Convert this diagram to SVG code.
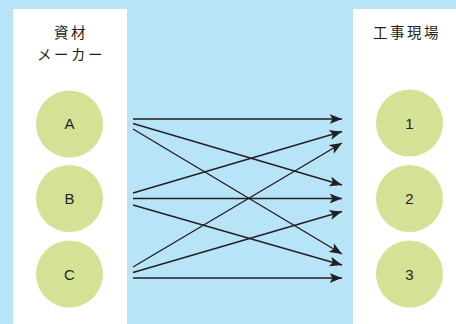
<svg xmlns="http://www.w3.org/2000/svg" width="456" height="324" viewBox="0 0 456 324">
  <style>
    .panel { fill: #ffffff; }
    .node circle { fill: #d3e295; }
    .node text, .head { font-family: "Liberation Sans", "Noto Sans CJK JP", sans-serif; fill: #231f20; text-anchor: middle; }
    .node text { font-size: 15px; }
    .head { font-size: 14.5px; letter-spacing: 2.5px; }
    .edges line { stroke: #231f20; stroke-width: 1.4; marker-end: url(#arrow); }
  </style>
  <defs>
    <marker id="arrow" markerUnits="userSpaceOnUse" markerWidth="13" markerHeight="11" viewBox="0 0 13 11" refX="12.5" refY="5.5" orient="auto">
      <path d="M0,0.5 L12.5,5.5 L0,10.5 L3,5.5 z" fill="#231f20"/>
    </marker>
  </defs>

  <!-- background -->
  <rect x="0" y="0" width="456" height="324" fill="#b8e4f7"/>

  <!-- column panels -->
  <rect class="panel" x="13" y="9" width="114" height="315"/>
  <rect class="panel" x="353" y="9" width="103" height="315"/>

  <!-- column headings -->
  <text class="head" x="71" y="38">資材</text>
  <text class="head" x="71" y="60">メーカー</text>
  <text class="head" x="407" y="38">工事現場</text>

  <!-- suppliers -->
  <g id="node-A" class="node">
    <circle cx="69.5" cy="124" r="33.5"/>
    <text x="69.5" y="129">A</text>
  </g>
  <g id="node-B" class="node">
    <circle cx="69.5" cy="198.5" r="33.5"/>
    <text x="69.5" y="204">B</text>
  </g>
  <g id="node-C" class="node">
    <circle cx="69.5" cy="274" r="33.5"/>
    <text x="69.5" y="279.5">C</text>
  </g>

  <!-- sites -->
  <g id="node-1" class="node">
    <circle cx="409.5" cy="123" r="33.5"/>
    <text x="409.5" y="128.5">1</text>
  </g>
  <g id="node-2" class="node">
    <circle cx="409.5" cy="198.5" r="33.5"/>
    <text x="409.5" y="204">2</text>
  </g>
  <g id="node-3" class="node">
    <circle cx="409.5" cy="274" r="33.5"/>
    <text x="409.5" y="279.5">3</text>
  </g>

  <!-- delivery routes -->
  <g id="edges" class="edges">
    <line x1="133" y1="119" x2="342" y2="119"/>
    <line x1="133" y1="123.5" x2="342" y2="185"/>
    <line x1="133" y1="129" x2="342" y2="254"/>
    <line x1="133" y1="193" x2="342" y2="131.5"/>
    <line x1="133" y1="198.5" x2="342" y2="198.5"/>
    <line x1="133" y1="205" x2="342" y2="265"/>
    <line x1="133" y1="267" x2="342" y2="143"/>
    <line x1="133" y1="272.5" x2="342" y2="211.5"/>
    <line x1="133" y1="278" x2="342" y2="278"/>
  </g>
</svg>
